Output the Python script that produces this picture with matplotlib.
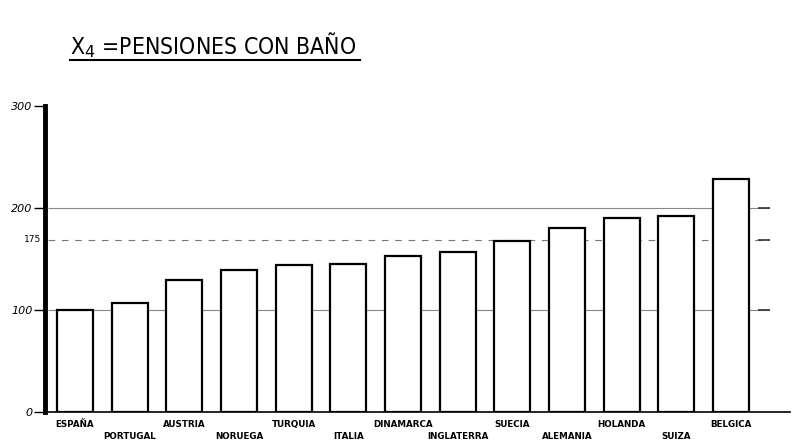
import matplotlib.pyplot as plt
from matplotlib.lines import Line2D

paises = ['ESPAÑA', 'PORTUGAL', 'AUSTRIA', 'NORUEGA', 'TURQUIA', 'ITALIA',
          'DINAMARCA', 'INGLATERRA', 'SUECIA', 'ALEMANIA', 'HOLANDA',
          'SUIZA', 'BELGICA']
valores = [100, 107, 129, 139, 144, 145, 153, 157, 168, 180, 190, 192, 228]
ticks_y = [0, 100, 200, 300]
# la linea rotulada "175" aparece dibujada algo mas baja en el original
linea_175 = 169

fig = plt.figure(figsize=(7.92, 4.43), dpi=100)
ax = fig.add_axes([45 / 792, 31 / 443, 745 / 792, 306 / 443])

x = list(range(len(paises)))
ax.bar(x, valores, width=0.66, color='white', edgecolor='black',
       linewidth=1.6, zorder=3)

# lineas de referencia
ax.hlines([100, 200], -0.5, 12.7, color='#888888', linewidth=0.8, zorder=1)
ax.hlines(linea_175, -0.5, 12.7, color='#777777', linewidth=0.8,
          linestyles=(0, (6, 6)), zorder=1)
ax.hlines([100, linea_175, 200], 12.5, 12.72, color='#333333',
          linewidth=1.2, zorder=2)

ax.set_xlim(-0.549, 13.08)
ax.set_ylim(0, 300)

for s in ['top', 'right']:
    ax.spines[s].set_visible(False)
ax.spines['left'].set_linewidth(3.5)
ax.spines['bottom'].set_linewidth(1.2)

ax.set_xticks([])
ax.set_yticks(ticks_y)
ax.set_yticklabels([str(t) for t in ticks_y], fontstyle='italic', fontsize=8)
ax.tick_params(axis='y', length=8, width=1, pad=1)
ax.text(-0.62, linea_175, '175', fontsize=6.5, ha='right', va='center')

for i, p in enumerate(paises):
    yy = -12 if i % 2 == 0 else -24
    ax.text(i, yy, p, ha='center', va='center', fontsize=6.3,
            fontweight='bold', clip_on=False)

fig.text(70 / 792, 1 - 45 / 443, r'X$_4$ =PENSIONES CON BAÑO', fontsize=16.5,
         ha='left', va='center', family='DejaVu Sans', fontstretch='condensed')
fig.add_artist(Line2D([70 / 792, 360 / 792], [1 - 60 / 443, 1 - 60 / 443],
                      color='black', linewidth=1.5))

fig.savefig('out.png', dpi=100)
